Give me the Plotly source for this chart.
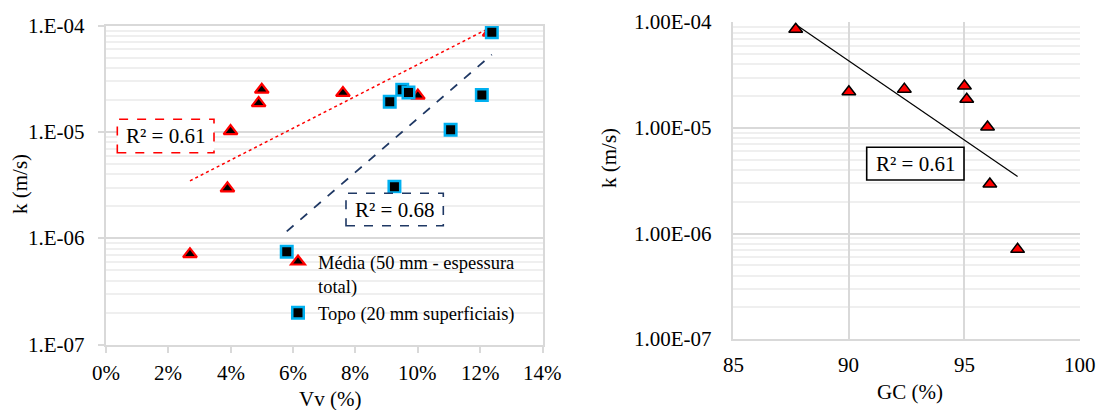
import numpy as np
import plotly.graph_objects as go

# ---------------- data ----------------
# Média (50 mm - espessura total)
vv_media = [12.3, 10.0, 7.6, 5.0, 4.9, 4.0, 3.9, 2.7]
gc_media = [87.7, 90.0, 92.4, 95.0, 95.1, 96.0, 96.1, 97.3]
k_media = [8.6e-5, 2.2e-5, 2.33e-5, 2.5e-5, 1.87e-5, 1.02e-5, 2.95e-6, 7.1e-7]

# Topo (20 mm superficiais)
vv_topo = [12.37, 9.5, 9.7, 9.1, 12.05, 11.05, 9.25, 5.8]
k_topo = [8.7e-5, 2.5e-5, 2.36e-5, 1.93e-5, 2.23e-5, 1.05e-5, 3.05e-6, 7.5e-7]

vv_ticks = [0, 2, 4, 6, 8, 10, 12, 14]
vv_ticktext = ["0%", "2%", "4%", "6%", "8%", "10%", "12%", "14%"]
gc_ticks = [85, 90, 95, 100]
gc_ticktext = ["85", "90", "95", "100"]
k_ticks = [1e-7, 1e-6, 1e-5, 1e-4]
k_ticktext_left = ["1.E-07", "1.E-06", "1.E-05", "1.E-04"]
k_ticktext_right = ["1.00E-07", "1.00E-06", "1.00E-05", "1.00E-04"]

name_media = "Média (50 mm - espessura<br>total)"
name_topo = "Topo (20 mm superficiais)"

FONT = "Liberation Serif, 'Times New Roman', Times, 'DejaVu Serif', serif"
W, H = 1100, 410


def px(x):
    return x / W


def py(y):
    return 1 - y / H


def exp_fit(x, y):
    x = np.asarray(x, float)
    ly = np.log10(np.asarray(y, float))
    b, a = np.polyfit(x, ly, 1)
    xs = np.array([x.min(), x.max()])
    return xs, 10 ** (a + b * xs)


minor_vals = [m * 10.0 ** e for e in range(-7, -4) for m in range(2, 10)]

fig = go.Figure()

# trendlines (left)
tx, ty = exp_fit(vv_media, k_media)
fig.add_trace(go.Scatter(x=tx, y=ty, mode="lines", showlegend=False,
                         line=dict(color="#ff0000", width=1.5, dash="dot"),
                         xaxis="x", yaxis="y", hoverinfo="skip"))
tx, ty = exp_fit(vv_topo, k_topo)
fig.add_trace(go.Scatter(x=tx, y=ty, mode="lines", showlegend=False,
                         line=dict(color="#1f3864", width=1.75, dash="dash"),
                         xaxis="x", yaxis="y", hoverinfo="skip"))

# left scatter
fig.add_trace(go.Scatter(x=vv_media, y=k_media, mode="markers", name=name_media,
                         marker=dict(symbol="triangle-up", size=12, color="black",
                                     line=dict(color="#ff0000", width=2.2)),
                         xaxis="x", yaxis="y"))
fig.add_trace(go.Scatter(x=vv_topo, y=k_topo, mode="markers", name=name_topo,
                         marker=dict(symbol="square", size=11.5, color="black",
                                     line=dict(color="#00b0f0", width=2.5)),
                         xaxis="x", yaxis="y"))

# right chart
tx, ty = exp_fit(gc_media, k_media)
fig.add_trace(go.Scatter(x=tx, y=ty, mode="lines", showlegend=False,
                         line=dict(color="black", width=1.2),
                         xaxis="x2", yaxis="y2", hoverinfo="skip"))
fig.add_trace(go.Scatter(x=gc_media, y=k_media, mode="markers", showlegend=False,
                         marker=dict(symbol="triangle-up", size=12, color="#ff0000",
                                     line=dict(color="black", width=1.5)),
                         xaxis="x2", yaxis="y2"))

grid_major = "#d9d9d9"
grid_minor = "#efefef"

fig.update_layout(
    template="none",
    width=W, height=H,
    margin=dict(l=0, r=0, t=0, b=0, autoexpand=False),
    paper_bgcolor="white", plot_bgcolor="white",
    font=dict(family=FONT, color="black", size=21),
    xaxis=dict(domain=[px(105.7), px(542.7)], range=[0, 14], tickvals=vv_ticks,
               showticklabels=False, showgrid=False, zeroline=False,
               showline=True, linecolor=grid_major, linewidth=2, mirror=True,
               ticks="outside", ticklen=6, tickcolor=grid_major, tickwidth=2,
               anchor="y", automargin=False),
    yaxis=dict(domain=[py(344.7), py(25.7)], type="log", range=[-7, -4],
               tickvals=k_ticks, showticklabels=False, showgrid=True,
               gridcolor=grid_major, gridwidth=1.5, zeroline=False,
               showline=True, linecolor=grid_major, linewidth=2, mirror=True,
               ticks="outside", ticklen=6, tickcolor=grid_major, tickwidth=2,
               anchor="x", automargin=False,
               minor=dict(tickmode="array", tickvals=minor_vals, showgrid=True,
                          gridcolor=grid_minor, gridwidth=1.5, ticks="")),
    xaxis2=dict(domain=[px(733.3), px(1080)], range=[85, 100], tickvals=gc_ticks,
                showticklabels=False, showgrid=True, gridcolor=grid_major,
                gridwidth=2, zeroline=False,
                showline=True, linecolor=grid_major, linewidth=2,
                ticks="", anchor="y2", automargin=False),
    yaxis2=dict(domain=[py(339.3), py(22.3)], type="log", range=[-7, -4],
                tickvals=k_ticks, showticklabels=False, showgrid=True,
                gridcolor=grid_major, gridwidth=2, zeroline=False,
                showline=True, linecolor=grid_major, linewidth=2,
                ticks="", anchor="x2", automargin=False,
                minor=dict(tickmode="array", tickvals=minor_vals, showgrid=True,
                           gridcolor=grid_minor, gridwidth=1.5, ticks="")),
    legend=dict(x=px(278), y=py(243), xanchor="left", yanchor="top",
                bgcolor="rgba(0,0,0,0)", borderwidth=0, valign="top",
                font=dict(family=FONT, size=18.5, color="black"),
                tracegroupgap=0, itemwidth=30),
    showlegend=True,
)

# tick labels (serif text tied to the axes' scales)
tickfont = dict(family=FONT, size=21, color="black")
for v, t in zip(vv_ticks, vv_ticktext):
    fig.add_annotation(text=t, xref="x", yref="paper", x=v, y=py(373),
                       xanchor="center", yanchor="middle", showarrow=False,
                       font=tickfont)
for v, t in zip(k_ticks, k_ticktext_left):
    fig.add_annotation(text=t, xref="paper", yref="y", x=px(87), y=np.log10(v),
                       xanchor="right", yanchor="middle", showarrow=False,
                       font=tickfont)
for v, t in zip(gc_ticks, gc_ticktext):
    fig.add_annotation(text=t, xref="x2", yref="paper", x=v, y=py(365),
                       xanchor="center", yanchor="middle", showarrow=False,
                       font=tickfont)
for v, t in zip(k_ticks, k_ticktext_right):
    fig.add_annotation(text=t, xref="paper", yref="y2", x=px(714), y=np.log10(v),
                       xanchor="right", yanchor="middle", showarrow=False,
                       font=tickfont)

# white area behind the legend (hides gridlines, stays under the markers)
fig.add_shape(type="rect", xref="paper", yref="paper",
              x0=px(279), x1=px(541), y0=py(313), y1=py(247),
              line=dict(width=0), fillcolor="white", layer="between")

# R² boxes (white filled)
boxes = [
    (117.3, 119.3, 214.0, 152.7, "#ff0000", "dash"),
    (346.0, 193.3, 443.3, 225.7, "#1f3864", "dash"),
    (866.7, 147.3, 964.0, 180.0, "black", "solid"),
]
for x0, y0, x1, y1, col, dash in boxes:
    fig.add_shape(type="rect", xref="paper", yref="paper",
                  x0=px(x0), x1=px(x1), y0=py(y1), y1=py(y0),
                  line=dict(color=col, width=1.6, dash=dash),
                  fillcolor="white", layer="above")

r2_labels = [("R² = 0.61", 165.6, 136.0), ("R² = 0.68", 394.6, 209.5),
             ("R² = 0.61", 915.3, 163.7)]
for txt, cx, cy in r2_labels:
    fig.add_annotation(text=txt, xref="paper", yref="paper", x=px(cx), y=py(cy),
                       xanchor="center", yanchor="middle", showarrow=False,
                       font=dict(family=FONT, size=21, color="black"))

# axis titles
titles = [("Vv (%)", 330, 399, 0), ("GC (%)", 910, 392, 0),
          ("k (m/s)", 20, 184, -90), ("k (m/s)", 609, 158, -90)]
for txt, cx, cy, ang in titles:
    fig.add_annotation(text=txt, xref="paper", yref="paper", x=px(cx), y=py(cy),
                       xanchor="center", yanchor="middle", showarrow=False,
                       textangle=ang, font=dict(family=FONT, size=21, color="black"))

fig.write_html("out.html")
